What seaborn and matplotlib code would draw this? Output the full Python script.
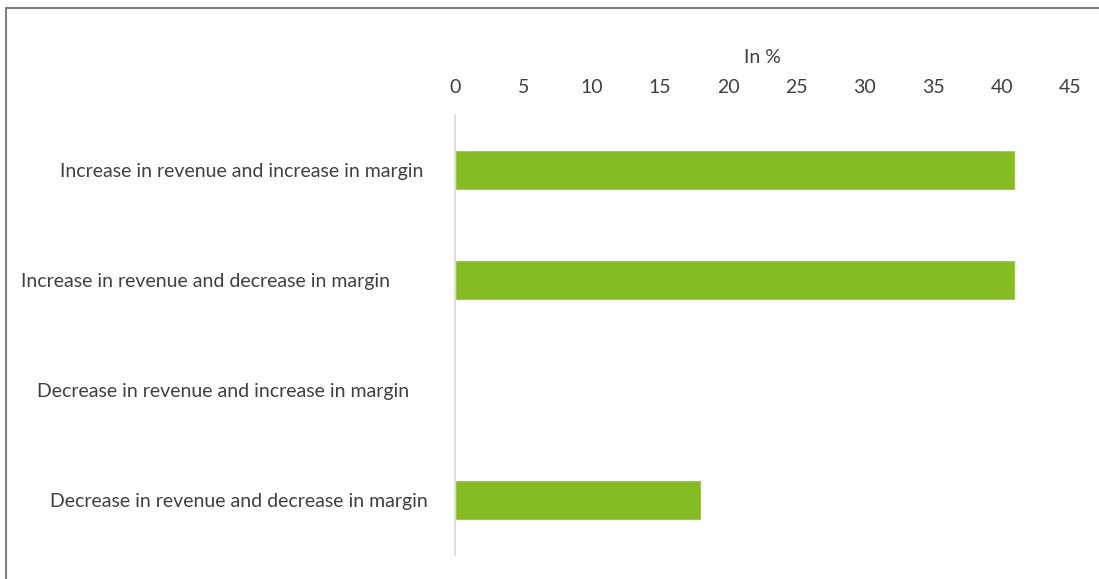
import matplotlib
matplotlib.use("Agg")
import matplotlib.pyplot as plt
import matplotlib.transforms as mtransforms
import seaborn as sns
import pandas as pd

categories = [
    "Increase in revenue and increase in margin",
    "Increase in revenue and decrease in margin",
    "Decrease in revenue and increase in margin",
    "Decrease in revenue and decrease in margin",
]
shares = [41, 41, 0, 18]
x_ticks = [0, 5, 10, 15, 20, 25, 30, 35, 40, 45]
axis_title = "In %"

sns.set_theme(style="white")
plt.rcParams["font.family"] = ["Lato", "DejaVu Sans"]

text_color = "#404040"
bar_color = "#85BC22"

df = pd.DataFrame({"category": categories, "share": shares})

fig = plt.figure(figsize=(10.99, 5.79), dpi=100)
ax = fig.add_axes([0.414, 0.0415, 0.5596, 0.7599])

sns.barplot(data=df, x="share", y="category", orient="h", color=bar_color,
            width=0.364, saturation=1, ax=ax)

ax.set_xlim(0, 45)
ax.set_ylim(3.5, -0.5)
ax.set_xticks(x_ticks)
ax.xaxis.tick_top()
ax.xaxis.set_label_position("top")
ax.set_xlabel(axis_title, fontsize=14, color=text_color, labelpad=11)
ax.set_ylabel("")
ax.tick_params(axis="x", length=0, pad=14, labelsize=14, labelcolor=text_color)
ax.tick_params(axis="y", length=0, pad=0, labelsize=14, labelcolor=text_color)

for side in ["top", "right", "bottom"]:
    ax.spines[side].set_visible(False)
ax.spines["left"].set_color("#d9d9d9")
ax.spines["left"].set_linewidth(1.2)

# individual label offsets from the axis line, in pixels
offsets = [32, 65, 46, 27]
for lbl, off in zip(ax.get_yticklabels(), offsets):
    lbl.set_transform(lbl.get_transform() +
                      mtransforms.ScaledTranslation(-off / 100, 0, fig.dpi_scale_trans))
    lbl.set_horizontalalignment("right")

# outer frame (left and top edges visible)
fig.add_artist(plt.Line2D([5.5 / 1099, 5.5 / 1099], [0, 1 - 8 / 579],
                          transform=fig.transFigure, color="#808080", linewidth=1.5))
fig.add_artist(plt.Line2D([5.5 / 1099, 1], [1 - 8 / 579, 1 - 8 / 579],
                          transform=fig.transFigure, color="#808080", linewidth=1.5))

fig.savefig("out.png", dpi=100)
